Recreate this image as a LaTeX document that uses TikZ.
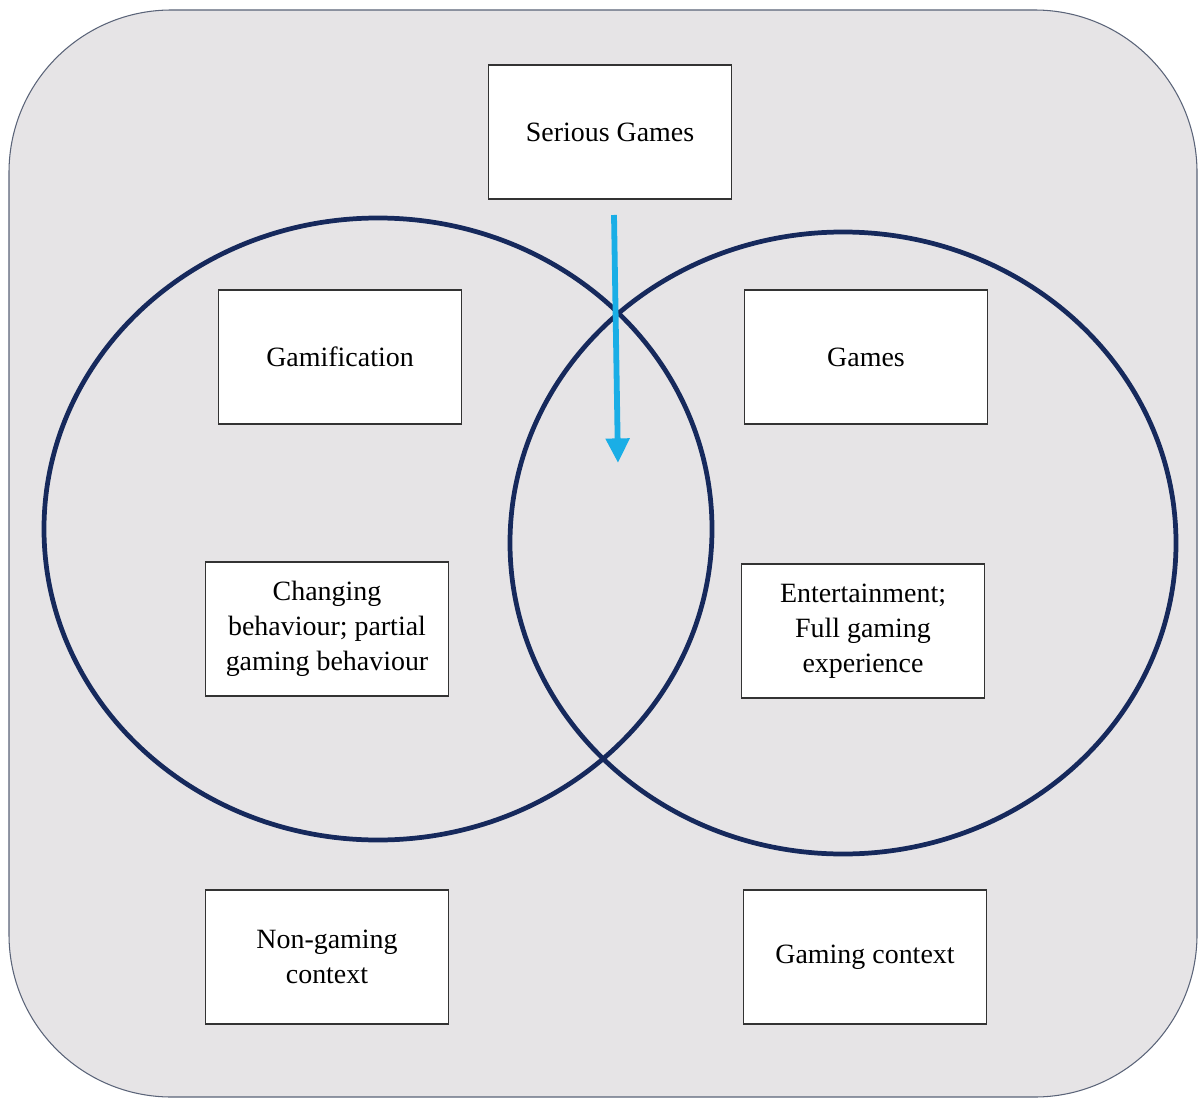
\documentclass[tikz,border=0pt]{standalone}
\usepackage{fontspec}
\setmainfont{Liberation Serif}
\usetikzlibrary{arrows.meta}
\definecolor{panel}{HTML}{E6E4E6}
\definecolor{panelline}{HTML}{5A6378}
\definecolor{ring}{HTML}{16295C}
\definecolor{pointer}{HTML}{1AAEE6}
\begin{document}
\begin{tikzpicture}[x=0.02cm,y=-0.02cm,
    box/.style={draw=black!80,fill=white,line width=0.6pt,minimum width=4.86cm,
      minimum height=2.68cm,align=center,font=\fontsize{15.9}{20}\selectfont,inner sep=2pt},
    ring/.style={draw=ring,line width=2.7pt},
    pointer/.style={draw=pointer,line width=3.3pt,-{Triangle[length=14pt,width=13pt]}}]
  \useasboundingbox (0,0) rectangle (1202,1101);
  \draw[fill=panel,draw=panelline,line width=0.6pt,rounded corners=3.25cm]
    (9,10) rectangle (1197,1097);
  \draw[ring] (378,529) ellipse [x radius=334,y radius=311];
  \draw[ring] (843,543) ellipse [x radius=333,y radius=311];
  \draw
    (610,132) node[box] (sg) {Serious Games}
    (340,357) node[box] (gam) {Gamification}
    (866,357) node[box] (games) {Games}
    (327,629) node[box] (change) {Changing\\behaviour; partial\\gaming behaviour}
    (863,631) node[box] (fun) {Entertainment;\\Full gaming\\experience}
    (327,957) node[box] (nongaming) {Non-gaming\\context}
    (865,957) node[box] (gaming) {Gaming context};
  \coordinate (from) at (614,215);
  \coordinate (to) at (618,463);
  \begin{scope}[pointer]
    \draw (from) to (to);
  \end{scope}
\end{tikzpicture}
\end{document}
